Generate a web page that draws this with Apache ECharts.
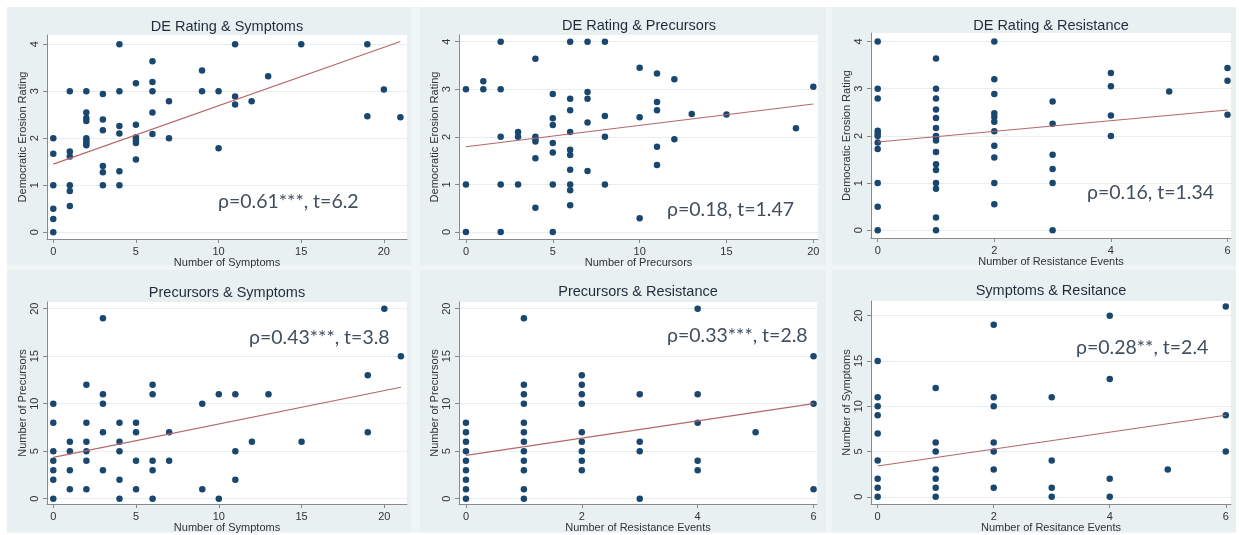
<!DOCTYPE html>
<html>
<head>
<meta charset="utf-8">
<script src="https://cdn.jsdelivr.net/npm/echarts@6/dist/echarts.min.js"></script>
<style>html,body{margin:0;padding:0;background:#fff}#c{width:1239px;height:535px}</style>
</head>
<body>
<div id="c"></div>
<script>
// ---------- DATA ----------
const titles = ["DE Rating & Symptoms","DE Rating & Precursors","DE Rating & Resistance",
                "Precursors & Symptoms","Precursors & Resistance","Symptoms & Resitance"];
const xNames = ["Number of Symptoms","Number of Precursors","Number of Resistance Events",
                "Number of Symptoms","Number of Resistance Events","Number of Resitance Events"];
const yNames = ["Democratic Erosion Rating","Democratic Erosion Rating","Democratic Erosion Rating",
                "Number of Precursors","Number of Precursors","Number of Symptoms"];
const annotations = ["ρ=0.61***, t=6.2","ρ=0.18, t=1.47","ρ=0.16, t=1.34",
                     "ρ=0.43***, t=3.8","ρ=0.33***, t=2.8","ρ=0.28**, t=2.4"];
const xTicks20 = [0,5,10,15,20];
const xTicks6 = [0,2,4,6];
const yTicks4 = [0,1,2,3,4];
const yTicks20 = [0,5,10,15,20];

const deVsSymptoms = [[0,2],[0,1.67],[0,1],[0,0.5],[0,0.28],[0,0],
 [1,3],[1,1.72],[1,1.61],[1,1],[1,0.88],[1,0.56],
 [2,3],[2,2.55],[2,2.43],[2,2.37],[2,2.0],[2,1.95],[2,1.9],[2,1.85],
 [3,2.94],[3,2.4],[3,2.17],[3,1.41],[3,1.28],[3,1],
 [4,4],[4,3],[4,2.26],[4,2.1],[4,1.3],[4,1],
 [5,3.17],[5,2.29],[5,2.02],[5,1.96],[5,1.9],[5,1.55],
 [6,3.64],[6,3.2],[6,3],[6,2.55],[6,2.09],
 [7,2.79],[7,2],[9,3.44],[9,3],[10,3],[10,1.79],
 [11,4],[11,2.89],[11,2.72],[12,2.79],[13,3.32],[15,4],[19,4],[19,2.47],[20,3.04],[21,2.45]];
const deVsPrecursors = [[0,3],[0,1],[0,0],[1,3.17],[1,3],
 [2,4],[2,3],[2,2],[2,1],[2,0],[3,2.1],[3,2],[3,1],
 [4,3.64],[4,2],[4,1.96],[4,1.9],[4,1.55],[4,0.51],
 [5,2.9],[5,2.39],[5,2.25],[5,1.87],[5,1.67],[5,1],[5,0],
 [6,4],[6,2.8],[6,2.56],[6,2.1],[6,1.73],[6,1.62],[6,1.31],[6,1],[6,0.88],[6,0.56],
 [7,4],[7,2.94],[7,2.8],[7,2.3],[7,1.28],[8,4],[8,2.44],[8,2],[8,1],
 [10,3.45],[10,2.41],[10,0.29],[11,3.33],[11,2.73],[11,2.56],[11,1.79],[11,1.41],
 [12,3.21],[12,1.95],[13,2.48],[15,2.47],[19,2.18],[20,3.05]];
const deVsResistance = [[0,4],[0,3],[0,2.79],[0,2.11],[0,2.05],[0,2.0],[0,1.86],[0,1.72],[0,1],[0,0.5],[0,0],
 [1,3.64],[1,3],[1,2.79],[1,2.56],[1,2.38],[1,2.17],[1,2.0],[1,1.96],[1,1.9],[1,1.66],[1,1.4],[1,1.28],[1,1],[1,0.88],[1,0.27],[1,0],
 [2,4],[2,3.2],[2,2.89],[2,2.48],[2,2.4],[2,2.3],[2,2.1],[2,1.79],[2,1.54],[2,1],[2,0.55],
 [3,2.73],[3,2.26],[3,1.6],[3,1.3],[3,1],[3,0],[4,3.33],[4,3.05],[4,2.43],[4,2],
 [5,2.94],[6,3.44],[6,3.17],[6,2.45]];
const precursorsVsSymptoms = [[0,10],[0,8],[0,5],[0,4],[0,3],[0,2],[0,0],
 [1,6],[1,5],[1,3],[1,1],[2,12],[2,8],[2,6],[2,5],[2,4],[2,1],
 [3,19],[3,11],[3,10],[3,7],[3,3],[4,8],[4,6],[4,5],[4,2],[4,0],
 [5,8],[5,7],[5,4],[5,1],[6,12],[6,11],[6,4],[6,3],[6,0],[7,7],[7,4],
 [9,10],[9,1],[10,11],[10,0],[11,11],[11,5],[11,2],
 [12,6],[13,11],[15,6],[19,13],[19,7],[20,20],[21,15]];
const precursorsVsResistance = [[0,8],[0,7],[0,6],[0,5],[0,4],[0,3],[0,2],[0,1],[0,0],
 [1,19],[1,12],[1,11],[1,10],[1,8],[1,7],[1,6],[1,5],[1,4],[1,3],[1,1],[1,0],
 [2,13],[2,12],[2,11],[2,10],[2,7],[2,6],[2,5],[2,4],[2,3],
 [3,11],[3,6],[3,5],[3,0],[4,20],[4,11],[4,8],[4,4],[4,3],[5,7],[6,15],[6,10],[6,1]];
const symptomsVsResistance = [[0,15],[0,11],[0,10],[0,9],[0,7],[0,4],[0,2],[0,1],[0,0],
 [1,12],[1,6],[1,5],[1,3],[1,2],[1,1],[1,0],
 [2,19],[2,11],[2,10],[2,6],[2,5],[2,3],[2,1],
 [3,11],[3,4],[3,1],[3,0],[4,20],[4,13],[4,2],[4,0],[5,3],[6,21],[6,9],[6,5]];

const fitDeSymptoms = [[0,1.45],[21,4.06]];
const fitDePrecursors = [[0,1.79],[20,2.69]];
const fitDeResistance = [[0,1.87],[6,2.55]];
const fitPrecSymptoms = [[0,4.35],[21,11.72]];
const fitPrecResistance = [[0,4.56],[6,10.0]];
const fitSympResistance = [[0,3.39],[6,9.0]];

// ---------- LAYOUT ----------
const scatterSets = [deVsSymptoms,deVsPrecursors,deVsResistance,precursorsVsSymptoms,precursorsVsResistance,symptomsVsResistance];
const fitSets = [fitDeSymptoms,fitDePrecursors,fitDeResistance,fitPrecSymptoms,fitPrecResistance,fitSympResistance];
const xTickSets = [xTicks20,xTicks20,xTicks6,xTicks20,xTicks6,xTicks6];
const yTickSets = [yTicks4,yTicks4,yTicks4,yTicks20,yTicks20,yTicks20];
const grids = [
  {left:47,top:35,width:360,height:204},
  {left:459,top:35,width:359,height:204},
  {left:871,top:33,width:360,height:205},
  {left:47,top:302,width:360,height:202},
  {left:459,top:302,width:358,height:202},
  {left:871,top:301,width:360,height:203}
];
const xRanges = [[-0.38,21.4],[-0.40,20.27],[-0.115,6.06],[-0.38,21.37],[-0.12,6.06],[-0.115,6.09]];
const yRanges = [[-0.143,4.198],[-0.147,4.14],[-0.163,4.18],[-0.56,20.7],[-0.56,20.7],[-0.8,21.62]];
const panelBoxes = [[7,7,404,258],[420,7,406,258],[832,7,404,258],[7,270,404,262],[420,270,406,262],[832,270,404,262]];
const titlePos = [[227,27],[639,26],[1051,26],[227,293],[638,292],[1051,291]];
const annPos = [[218,202],[667,210],[1087,193],[249,338],[667,336],[1076,348]];

const axisFont = {fontFamily:'"Liberation Sans", Arial, sans-serif', fontSize:11, color:'#333'};
const axisLineColor = '#8a8a8a';

const option = {
  backgroundColor:'#ffffff',
  animation:false,
  grid: grids.map(g => Object.assign({show:true, backgroundColor:'#ffffff', borderWidth:0}, g)),
  xAxis: grids.map((g,i) => ({
    type:'value', gridIndex:i, min:xRanges[i][0], max:xRanges[i][1],
    name:xNames[i], nameLocation:'middle', nameGap:18,
    nameTextStyle:Object.assign({}, axisFont),
    axisLine:{show:true, onZero:false, lineStyle:{color:axisLineColor, width:1}},
    axisTick:{show:true, length:4, lineStyle:{color:axisLineColor}, customValues:xTickSets[i]},
    axisLabel:Object.assign({margin:7, customValues:xTickSets[i]}, axisFont),
    splitLine:{show:false}
  })),
  yAxis: grids.map((g,i) => ({
    type:'value', gridIndex:i, min:yRanges[i][0], max:yRanges[i][1],
    name:yNames[i], nameLocation:'middle', nameGap:18, nameRotate:90,
    nameTextStyle:Object.assign({}, axisFont),
    axisLine:{show:true, onZero:false, lineStyle:{color:axisLineColor, width:1}},
    axisTick:{show:true, length:4, lineStyle:{color:axisLineColor}, customValues:yTickSets[i]},
    axisLabel:Object.assign({margin:7, rotate:90, customValues:yTickSets[i]}, axisFont),
    splitLine:{show:true, lineStyle:{color:'#e6eef0', width:1}}
  })),
  series: [].concat(
    scatterSets.map((d,i) => ({
      type:'scatter', xAxisIndex:i, yAxisIndex:i, data:d, symbolSize:6.5,
      itemStyle:{color:'#1a476f', opacity:1}, silent:true, z:3
    })),
    fitSets.map((d,i) => ({
      type:'line', xAxisIndex:i, yAxisIndex:i, data:d, showSymbol:false, symbol:'none',
      lineStyle:{color:'#b5676a', width:1.1}, silent:true, z:4
    }))
  ),
  graphic: [].concat(
    [{type:'rect', shape:{x:7,y:7,width:1229,height:526}, style:{fill:'#f0f5f6'}, z:-20, silent:true}],
    panelBoxes.map(b => ({type:'rect', shape:{x:b[0],y:b[1],width:b[2],height:b[3]}, style:{fill:'#e8f0f2'}, z:-10, silent:true})),
    titles.map((t,i) => ({type:'text', x:titlePos[i][0], y:titlePos[i][1], z:50, silent:true,
      style:{text:t, fill:'#1f2c3a', font:'14.5px "Liberation Sans", Arial, sans-serif', align:'center', verticalAlign:'middle'}})),
    annotations.map((t,i) => ({type:'text', x:annPos[i][0], y:annPos[i][1], z:50, silent:true,
      style:{text:t, fill:'#414e5e', font:'19.5px Lato, "Open Sans", sans-serif', align:'left', verticalAlign:'middle'}}))
  )
};
const chart = echarts.init(document.getElementById('c'), null, {renderer:'canvas'});
chart.setOption(option);
</script>
</body>
</html>
